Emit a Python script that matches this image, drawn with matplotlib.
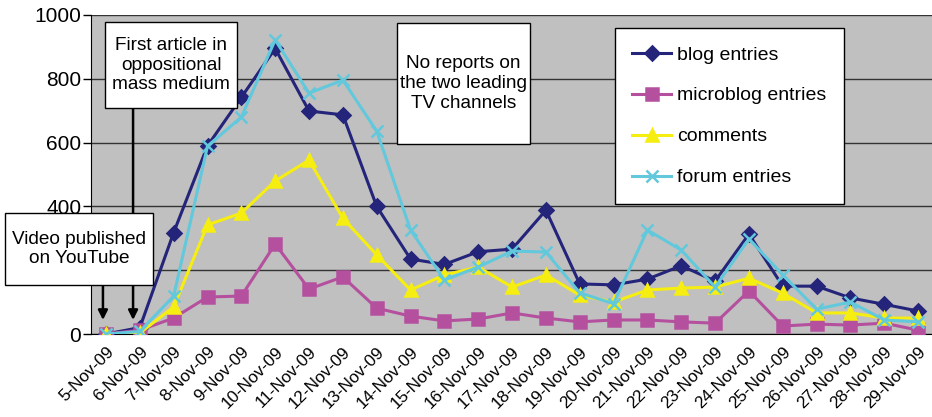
import matplotlib
matplotlib.use("Agg")
import matplotlib.pyplot as plt
from matplotlib.patches import Rectangle

plt.rcParams['font.family'] = ['Liberation Sans', 'DejaVu Sans']

W, H = 932, 417

dates = ['%d-Nov-09' % d for d in range(5, 30)]

blog = [0, 20, 318, 590, 742, 895, 699, 687, 400, 235, 218, 258, 266, 388,
        157, 154, 172, 214, 166, 313, 150, 150, 113, 93, 72]
microblog = [0, 12, 50, 116, 119, 282, 141, 179, 81, 56, 41, 47, 66, 50,
             38, 44, 44, 38, 34, 135, 25, 31, 28, 34, 12]
comments = [0, 3, 85, 342, 379, 480, 545, 363, 248, 138, 185, 210, 147, 185,
            122, 100, 138, 144, 147, 175, 128, 66, 66, 50, 50]
forum = [0, 8, 119, 589, 680, 922, 755, 796, 636, 326, 169, 210, 260, 257,
         129, 95, 326, 263, 147, 298, 185, 78, 100, 44, 38]

series = [
    ('blog entries', blog, '#24247A', 'D', 7),
    ('microblog entries', microblog, '#B5509F', 's', 8),
    ('comments', comments, '#F5EE10', '^', 9),
    ('forum entries', forum, '#62C8DC', 'x', 9),
]

fig = plt.figure(figsize=(W / 100, H / 100), dpi=100)
ax = fig.add_axes([91 / W, 1 - 334 / H, 841 / W, 319 / H])
ax.set_facecolor('#C0C0C0')

x = list(range(len(dates)))
for label, vals, color, marker, ms in series:
    ax.plot(x, vals, color=color, lw=2.2, marker=marker, ms=ms,
            mew=1.8, label=label, zorder=3)

ax.set_ylim(0, 1000)
ax.set_xlim(-0.443, 24.41)
# the 200 label sits under the "Video published" box in the original
ax.set_yticks([0, 200, 400, 600, 800, 1000])
ax.set_yticklabels(['0', '', '400', '600', '800', '1000'])
ax.set_xticks(x)
ax.set_xticklabels(dates, rotation=45, ha='right', rotation_mode='anchor',
                   fontsize=12.3)
ax.tick_params(axis='y', labelsize=15, length=6, width=1, pad=1,
               direction='out')
ax.tick_params(axis='x', length=0, pad=7)
ax.yaxis.grid(True, color='#333333', lw=1)
ax.set_axisbelow(True)
for s in ['top', 'right']:
    ax.spines[s].set_visible(False)
ax.spines['left'].set_color('black')
ax.spines['bottom'].set_color('black')


def note(left, top, right, bottom, text):
    # box given in pixels measured from the top-left of the picture
    rect = Rectangle((left / W, 1 - bottom / H), (right - left) / W,
                     (bottom - top) / H, transform=fig.transFigure,
                     fc='white', ec='black', lw=1, zorder=5)
    fig.add_artist(rect)
    fig.text((left + right) / 2 / W, 1 - (top + bottom) / 2 / H, text,
             ha='center', va='center', fontsize=13.7, linespacing=1.22,
             zorder=6)


note(105, 22, 237, 108, 'First article in\noppositional\nmass medium')
note(5, 213, 153, 285, 'Video published\non YouTube')
note(397, 23, 530, 144, 'No reports on\nthe two leading\nTV channels')

arrow = dict(arrowstyle='-|>', color='black', lw=1.8, mutation_scale=14,
             shrinkA=0, shrinkB=0)
ax.annotate('', xy=(-0.09, 44), xytext=(-0.09, 154), arrowprops=arrow,
            zorder=4)
ax.annotate('', xy=(0.8, 44), xytext=(0.8, 708), arrowprops=arrow, zorder=4)

leg = ax.legend(loc='upper left', bbox_to_anchor=(0.623, 0.958), fontsize=14,
                frameon=True, fancybox=False, edgecolor='black',
                labelspacing=1.2, handlelength=2.0, handletextpad=0.3,
                borderpad=0.9, borderaxespad=0)
leg.get_frame().set_linewidth(1)
leg.get_frame().set_alpha(1)

fig.savefig('out.png', dpi=100)
